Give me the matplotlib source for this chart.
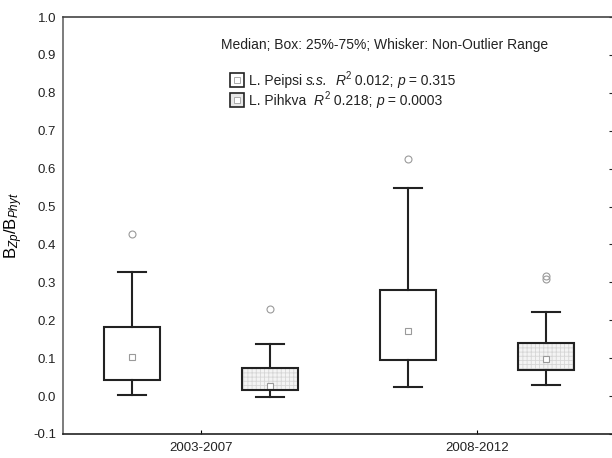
import matplotlib
matplotlib.use('Agg')
import matplotlib.pyplot as plt
from matplotlib.patches import PathPatch
import numpy as np

plt.rcParams['font.family'] = ['Liberation Sans', 'DejaVu Sans']
plt.rcParams['mathtext.fontset'] = 'custom'
plt.rcParams['mathtext.rm'] = 'Liberation Sans'
plt.rcParams['mathtext.it'] = 'Liberation Sans:italic'
plt.rcParams['hatch.linewidth'] = 0.6

# Periods on the x axis
periods = ['2003-2007', '2008-2012']

# L. Peipsi s.s. (one value per period)
peipsi_median = [0.104, 0.171]
peipsi_q1 = [0.042, 0.094]
peipsi_q3 = [0.181, 0.280]
peipsi_low = [0.003, 0.024]
peipsi_high = [0.328, 0.549]
peipsi_out = [[0.427], [0.625]]

# L. Pihkva
pihkva_median = [0.026, 0.097]
pihkva_q1 = [0.016, 0.068]
pihkva_q3 = [0.075, 0.139]
pihkva_low = [-0.002, 0.030]
pihkva_high = [0.138, 0.222]
pihkva_out = [[0.230], [0.308, 0.318]]

yticks = [-0.1, 0.0, 0.1, 0.2, 0.3, 0.4, 0.5, 0.6, 0.7, 0.8, 0.9, 1.0]

# legend lines, split into (text, kind) pieces: n = normal, i = italic, s = superscript
legend_pieces = [
    [('L. Peipsi ', 'n'), ('s.s.', 'i'), ('  ', 'n'), ('R', 'i'), ('2', 's'),
     (' 0.012; ', 'n'), ('p', 'i'), (' = 0.315', 'n')],
    [('L. Pihkva  ', 'n'), ('R', 'i'), ('2', 's'), (' 0.218; ', 'n'),
     ('p', 'i'), (' = 0.0003', 'n')],
]


def make_stats(med, q1, q3, lo, hi, out):
    stats = []
    for i in range(len(med)):
        stats.append({'med': med[i], 'q1': q1[i], 'q3': q3[i],
                      'whislo': lo[i], 'whishi': hi[i],
                      'fliers': out[i], 'mean': med[i]})
    return stats


fig = plt.figure(figsize=(6.12, 4.58), dpi=100)
ax = fig.add_axes([63 / 612, (458 - 434) / 458, 552 / 612, 417 / 458])

centers = np.arange(len(periods)) + 0.5
common = dict(widths=0.2, patch_artist=True, showmeans=True,
              boxprops=dict(linewidth=1.5, edgecolor='#222222'),
              whiskerprops=dict(linewidth=1.5, color='#222222'),
              capprops=dict(linewidth=1.5, color='#222222'),
              capwidths=0.1,
              medianprops=dict(linestyle='none'),
              meanprops=dict(marker='s', markersize=4.5, markerfacecolor='white',
                             markeredgecolor='#9a9a9a', markeredgewidth=0.8),
              flierprops=dict(marker='o', markersize=5, markerfacecolor='none',
                              markeredgecolor='#9a9a9a', markeredgewidth=0.8))

bp1 = ax.bxp(make_stats(peipsi_median, peipsi_q1, peipsi_q3, peipsi_low,
                        peipsi_high, peipsi_out),
             positions=centers - 0.25, **common)
for box in bp1['boxes']:
    box.set_facecolor('white')

bp2 = ax.bxp(make_stats(pihkva_median, pihkva_q1, pihkva_q3, pihkva_low,
                        pihkva_high, pihkva_out),
             positions=centers + 0.25, **common)
for box in bp2['boxes']:
    box.set_facecolor('#f4f4f4')
    box.set_hatch('++++')
    box.set_edgecolor('#d6d6d6')
    box.set_linewidth(0)
    ax.add_patch(PathPatch(box.get_path(), fill=False, edgecolor='#222222',
                           linewidth=1.5, transform=box.get_transform(),
                           zorder=box.get_zorder() + 0.1))

ax.set_xlim(0, 2)
ax.set_ylim(-0.1, 1.0)
ax.set_xticks(centers)
ax.set_xticklabels(periods, fontsize=9.5)
ax.set_yticks(yticks)
ax.set_yticklabels(['%.1f' % v for v in yticks], fontsize=9.5)
ax.tick_params(axis='y', left=False, right=True, direction='in', length=4,
               labelleft=True, pad=5, colors='#222222', labelcolor='#222222')
ax.tick_params(axis='x', direction='in', length=3, pad=6, labelcolor='#222222')
ax.spines['left'].set_color('#666666')
ax.spines['top'].set_color('#444444')
ax.spines['bottom'].set_color('#222222')
for s in ax.spines.values():
    s.set_linewidth(1.2)

ax.set_ylabel(r'B$_{Zp}$/B$_{Phyt}$', fontsize=12, labelpad=6)

ax.text(0.583, 0.933, 'Median; Box: 25%-75%; Whisker: Non-Outlier Range',
        transform=ax.transAxes, ha='center', va='center', fontsize=10,
        color='#222222')

fills = ['white', '#e8e8e8']
for i, (pieces, fc) in enumerate(zip(legend_pieces, fills)):
    yy = 0.849 - i * 0.048
    ax.plot(0.315, yy, marker='s', markersize=10, markerfacecolor=fc,
            markeredgecolor='#222222', markeredgewidth=1.2,
            transform=ax.transAxes, clip_on=False)
    ax.plot(0.315, yy, marker='s', markersize=4, markerfacecolor='white',
            markeredgecolor='#aaaaaa', markeredgewidth=0.7,
            transform=ax.transAxes, clip_on=False)
    base = yy - 0.012
    prev = ax.text(0.337, base, pieces[0][0], transform=ax.transAxes,
                   ha='left', va='baseline', fontsize=10, color='#222222')
    for txt, kind in pieces[1:]:
        # each piece starts where the previous one ends, on the same baseline
        prev = ax.annotate(txt, xy=(1, base), xycoords=(prev, 'axes fraction'),
                           xytext=(0.3 if kind == 's' else 0,
                                   4 if kind == 's' else 0),
                           textcoords='offset points',
                           ha='left', va='baseline',
                           fontsize=7 if kind == 's' else 10,
                           color='#222222',
                           style='italic' if kind == 'i' else 'normal')

fig.savefig('out.png', dpi=100)
